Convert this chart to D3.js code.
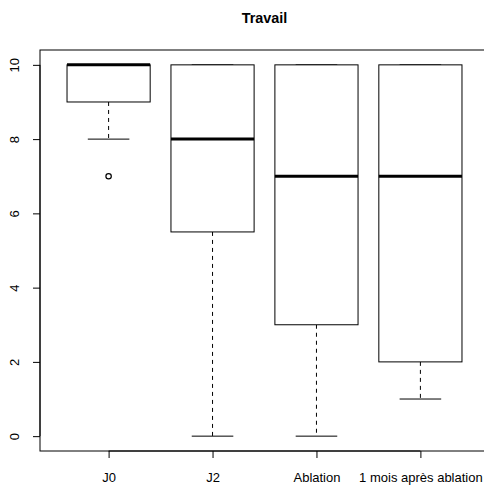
<!DOCTYPE html>
<html><head><meta charset="utf-8">
<script src="https://cdn.jsdelivr.net/npm/d3@7"></script>
<style>body{margin:0;background:#fff}svg{display:block}</style>
</head><body>
<script>
const categories = ["J0", "J2", "Ablation", "1 mois après ablation"];
const whiskerLow = [8, 0, 0, 1];
const q1 = [9, 5.5, 3, 2];
const medians = [10, 8, 7, 7];
const q3 = [10, 10, 10, 10];
const whiskerHigh = [10, 10, 10, 10];
const outliers = [[7], [], [], []];
const yTicks = [0, 2, 4, 6, 8, 10];
const title = "Travail";

const W = 484, H = 485;
const svg = d3.select("body").append("svg").attr("width", W).attr("height", H);
const font = "'Liberation Sans', Arial, Helvetica, sans-serif";

const x = d3.scaleLinear().domain([0.34, 4.66]).range([40, 489]);
const y = d3.scaleLinear().domain([-0.4, 10.4]).range([451, 50]);
const unit = x(2) - x(1);
const boxW = 0.8 * unit, capW = 0.4 * unit;

// frame
svg.append("rect").attr("x", x.range()[0]).attr("y", y.range()[1])
  .attr("width", x.range()[1] - x.range()[0]).attr("height", y.range()[0] - y.range()[1])
  .attr("fill", "none").attr("stroke", "#000").attr("stroke-width", 1);

// y axis
const yAxis = svg.append("g").attr("transform", `translate(${x.range()[0]},0)`)
  .call(d3.axisLeft(y).tickValues(yTicks).tickSize(7).tickPadding(0).tickFormat(d3.format("d")));
yAxis.select(".domain").attr("d", `M0,${y(0)}V${y(10)}`);
yAxis.selectAll("text").attr("font-family", font).attr("font-size", 13).attr("fill", "#000")
  .attr("text-anchor", "middle").attr("dy", null).attr("x", null)
  .attr("transform", d => `translate(-21,0) rotate(-90)`);

// x axis
const xAxis = svg.append("g").attr("transform", `translate(0,${y.range()[0]})`)
  .call(d3.axisBottom(x).tickValues([1, 2, 3, 4]).tickSize(7).tickPadding(15)
    .tickFormat((d) => categories[d - 1]));
xAxis.select(".domain").attr("d", `M${x(1)},0H${x(4)}`);
xAxis.selectAll("text").attr("font-family", font).attr("font-size", 13).attr("fill", "#000");

// boxes
const data = categories.map((c, i) => ({i: i + 1, lo: whiskerLow[i], q1: q1[i], med: medians[i], q3: q3[i], hi: whiskerHigh[i], out: outliers[i]}));
const g = svg.append("g").selectAll("g").data(data).join("g");
g.append("line").attr("x1", d => x(d.i)).attr("x2", d => x(d.i))
  .attr("y1", d => y(d.q1)).attr("y2", d => y(d.lo))
  .attr("stroke", "#000").attr("stroke-dasharray", "4,4");
g.append("line").attr("x1", d => x(d.i)).attr("x2", d => x(d.i))
  .attr("y1", d => y(d.q3)).attr("y2", d => y(d.hi))
  .attr("stroke", "#000").attr("stroke-dasharray", "4,4");
g.append("line").attr("x1", d => x(d.i) - capW / 2).attr("x2", d => x(d.i) + capW / 2)
  .attr("y1", d => y(d.lo)).attr("y2", d => y(d.lo)).attr("stroke", "#000");
g.append("line").attr("x1", d => x(d.i) - capW / 2).attr("x2", d => x(d.i) + capW / 2)
  .attr("y1", d => y(d.hi)).attr("y2", d => y(d.hi)).attr("stroke", "#000");
g.append("rect").attr("x", d => x(d.i) - boxW / 2).attr("width", boxW)
  .attr("y", d => y(d.q3)).attr("height", d => y(d.q1) - y(d.q3))
  .attr("fill", "#fff").attr("stroke", "#000");
g.append("line").attr("x1", d => x(d.i) - boxW / 2).attr("x2", d => x(d.i) + boxW / 2)
  .attr("y1", d => y(d.med)).attr("y2", d => y(d.med)).attr("stroke", "#000").attr("stroke-width", 3);
g.selectAll("circle").data(d => d.out.map(v => ({i: d.i, v}))).join("circle")
  .attr("cx", d => x(d.i)).attr("cy", d => y(d.v)).attr("r", 2.7)
  .attr("fill", "none").attr("stroke", "#000").attr("stroke-width", 1.2);

// title
svg.append("text").attr("x", (x.range()[0] + x.range()[1]) / 2).attr("y", 23)
  .attr("text-anchor", "middle").attr("font-family", font).attr("font-weight", "bold")
  .attr("font-size", 14.4).text(title);
</script>
</body></html>
